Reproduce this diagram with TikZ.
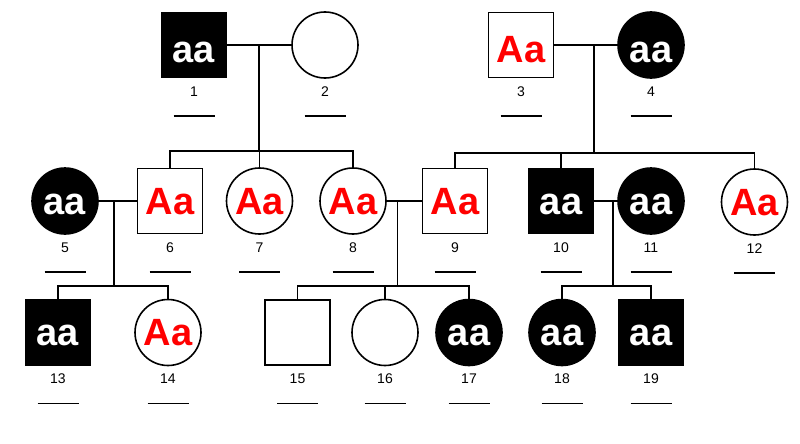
\documentclass[tikz,border=0pt]{standalone}
\usepackage{fontspec}
\setmainfont{Liberation Sans}
\usetikzlibrary{calc}
\definecolor{gred}{RGB}{255,0,0}
\begin{document}
\begin{tikzpicture}[x=1pt,y=-1pt,
  ind/.style={draw=black, line width=1.6pt, inner sep=0pt, text height=26pt, text depth=0pt,
    font=\fontsize{38}{38}\selectfont\bfseries},
  toprow/.style={text height=36pt},
  male/.style={ind, rectangle, minimum size=65pt},
  female/.style={ind, circle, minimum size=66pt},
  aff/.style={fill=black, text=white},
  het/.style={text=gred},
  link/.style={line width=1.6pt},
  numlbl/.style={font=\fontsize{14}{14}\selectfont, inner sep=0pt},
  uline/.style={line width=1.3pt}]
\fill[white] (0,0) rectangle (800,444);
\useasboundingbox (0,0) rectangle (800,444);

% generation I
\node[male,aff,toprow] (n1) at (194,45) {aa};
\node[female,toprow] (n2) at (325,45) {};
\node[male,het,toprow] (n3) at (521,45) {Aa};
\node[female,aff,toprow] (n4) at (651,45) {aa};
% generation II
\node[female,aff] (n5) at (65,201) {aa};
\node[male,het] (n6) at (170,201) {Aa};
\node[female,het] (n7) at (259.5,201) {Aa};
\node[female,het] (n8) at (353,201) {Aa};
\node[male,het] (n9) at (455,201) {Aa};
\node[male,aff] (n10) at (561,201) {aa};
\node[female,aff] (n11) at (651,201) {aa};
\node[female,het] (n12) at (754.5,202) {Aa};
% generation III
\node[male,aff] (n13) at (58,332.5) {aa};
\node[female,het] (n14) at (168,332.5) {Aa};
\node[male] (n15) at (297.5,332.5) {};
\node[female] (n16) at (385,332.5) {};
\node[female,aff] (n17) at (469,332.5) {aa};
\node[female,aff] (n18) at (562,332.5) {aa};
\node[male,aff] (n19) at (651,332.5) {aa};

% number labels and blanks
\foreach \i in {1,...,19} {
  \node[numlbl] (l\i) at ($(n\i)+(0,46.5)$) {\i};
  \draw[uline] ($(n\i)+(-20.5,71)$) -- ++(41,0);
}

% mating lines and descent points
\coordinate (m12) at (259,45);
\coordinate (m34) at (594,45);
\coordinate (m56) at (114,201);
\coordinate (m89) at (397.5,201);
\coordinate (m1011) at (613,201);
\coordinate (s12) at (259,151);
\coordinate (s34) at (594,153);
\coordinate (s56) at (114,286);
\coordinate (s89) at (397.5,286);
\coordinate (s1011) at (613,286);

\draw[link] (n1.east) -- (n2.west);
\draw[link] (n3.east) -- (n4.west);
\draw[link] (n5.east) -- (n6.west);
\draw[link] (n8.east) -- (n9.west);
\draw[link] (n10.east) -- (n11.west);

\draw[link] (m12) -- (s12);
\draw[link] (m34) -- (s34);
\draw[link] (m56) -- (s56);
\draw[link] (m89) -- (s89);
\draw[link] (m1011) -- (s1011);

% sibships
\draw[link] (n6.north) -- (n6.north |- s12) -- (n8.north |- s12) -- (n8.north);
\draw[link] (n7.north) -- (n7.north |- s12);
\draw[link] (n9.north) -- (n9.north |- s34) -- (n12.north |- s34) -- (n12.north);
\draw[link] (n10.north) -- (n10.north |- s34);
\draw[link] (n13.north) -- (n13.north |- s56) -- (n14.north |- s56) -- (n14.north);
\draw[link] (n15.north) -- (n15.north |- s89) -- (n17.north |- s89) -- (n17.north);
\draw[link] (n16.north) -- (n16.north |- s89);
\draw[link] (n18.north) -- (n18.north |- s1011) -- (n19.north |- s1011) -- (n19.north);
\end{tikzpicture}
\end{document}
